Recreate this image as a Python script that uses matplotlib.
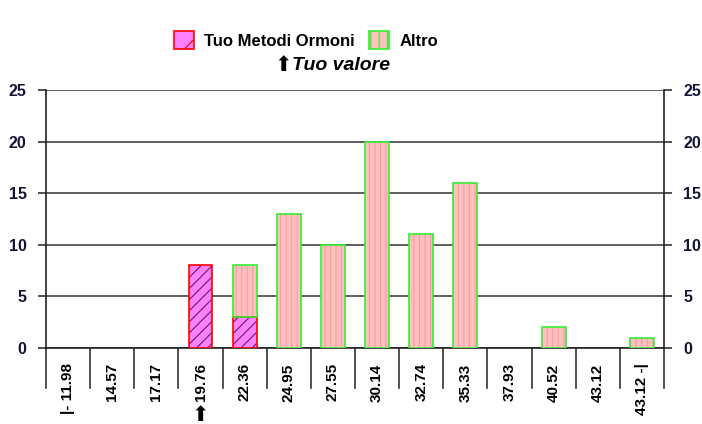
import matplotlib
matplotlib.use("Agg")
import matplotlib.pyplot as plt
import matplotlib.transforms as mtransforms
from matplotlib.patches import Patch
import numpy as np

plt.rcParams['font.family'] = ['Liberation Sans', 'DejaVu Sans']
plt.rcParams['hatch.linewidth'] = 0.8

# dati
categories = ["|- 11.98", "14.57", "17.17", "19.76", "22.36", "24.95", "27.55",
              "30.14", "32.74", "35.33", "37.93", "40.52", "43.12", "43.12 -|"]
tuo = [0, 0, 0, 8, 3, 0, 0, 0, 0, 0, 0, 0, 0, 0]
altro = [0, 0, 0, 0, 5, 13, 10, 20, 11, 16, 0, 2, 0, 1]
tuo_valore_idx = 3

W, H = 702, 424
fig = plt.figure(figsize=(W / 100, H / 100), dpi=100)
ax = fig.add_axes([46 / W, (H - 348) / H, (664 - 46) / W, (348 - 90) / H])

x = np.arange(len(categories))
bw = 0.54

# barre "Tuo Metodi Ormoni"
tuo_arr = np.array(tuo, dtype=float)
alt_arr = np.array(altro, dtype=float)
m1 = tuo_arr > 0
ax.bar(x[m1], tuo_arr[m1], bw, color='#ff80ff', edgecolor='#602060', hatch='///',
       linewidth=0, zorder=3)
ax.bar(x[m1], tuo_arr[m1], bw, fill=False, edgecolor='#ff0000', linewidth=1.2, zorder=4)

# barre "Altro" (impilate)
m2 = alt_arr > 0
ax.bar(x[m2], alt_arr[m2], bw, bottom=tuo_arr[m2], color='#ffc0c0', edgecolor='#ff9a9a',
       hatch='|||', linewidth=0, zorder=3)
ax.bar(x[m2], alt_arr[m2], bw, bottom=tuo_arr[m2], fill=False, edgecolor='#33ee33',
       linewidth=1.2, zorder=4)

ax.set_xlim(-0.5, len(categories) - 0.5)
ax.set_ylim(0, 25)
ax.set_yticks(range(0, 26, 5))
ax.grid(axis='y', color='#333333', linewidth=1.1, zorder=1)
ax.set_axisbelow(True)
for s in ax.spines.values():
    s.set_color('#222222')
    s.set_linewidth(1.2)
ax.spines['top'].set_visible(False)

ax.tick_params(axis='y', which='both', left=True, right=True, labelleft=True,
               labelright=True, length=6, width=1.1, color='#222222',
               labelsize=11.5, pad=8, labelcolor='#15153a')
for lab in ax.get_yticklabels():
    lab.set_fontweight('bold')

ax.set_xticks(x)
ax.set_xticklabels(categories, rotation=90, fontsize=11, fontweight='bold',
                   va='top', ha='center')
ax.tick_params(axis='x', length=0, pad=11)

# separatori sotto l'asse
trans = mtransforms.blended_transform_factory(ax.transData, ax.transAxes)
for b in np.arange(-0.5, len(categories) + 0.5, 1.0):
    ax.plot([b, b], [0, -40 / 258], transform=trans, color='#222222', linewidth=1.1,
            clip_on=False, zorder=5)

# legenda
h1 = Patch(facecolor='#ff80ff', edgecolor='#ff0000', hatch='/', linewidth=1.2)
h2 = Patch(facecolor='#ffc0c0', edgecolor='#33ee33', hatch='||', linewidth=1.2)
fig.legend([h1, h2], ['Tuo Metodi Ormoni', 'Altro'], ncol=2, frameon=False,
           loc='center', bbox_to_anchor=(306 / W, 1 - 40 / H),
           prop={'weight': 'bold', 'size': 12}, handlelength=1.2, handleheight=1.2,
           handletextpad=0.6, columnspacing=0.9)

fig.text(283 / W, 1 - 65 / H, '\u2b06', ha='center', va='center', fontsize=15,
         family=['DejaVu Sans'])
fig.text(292 / W, 1 - 66 / H, 'Tuo valore', ha='left', va='center', fontsize=14,
         fontweight='bold', fontstyle='italic')

# freccia sotto la categoria del tuo valore
xc = ax.transData.transform((tuo_valore_idx, 0))[0] / W
fig.text(xc, 1 - 415 / H, '\u2b06', ha='center', va='center', fontsize=15,
         family=['DejaVu Sans'])

fig.savefig('out.png', dpi=100)
